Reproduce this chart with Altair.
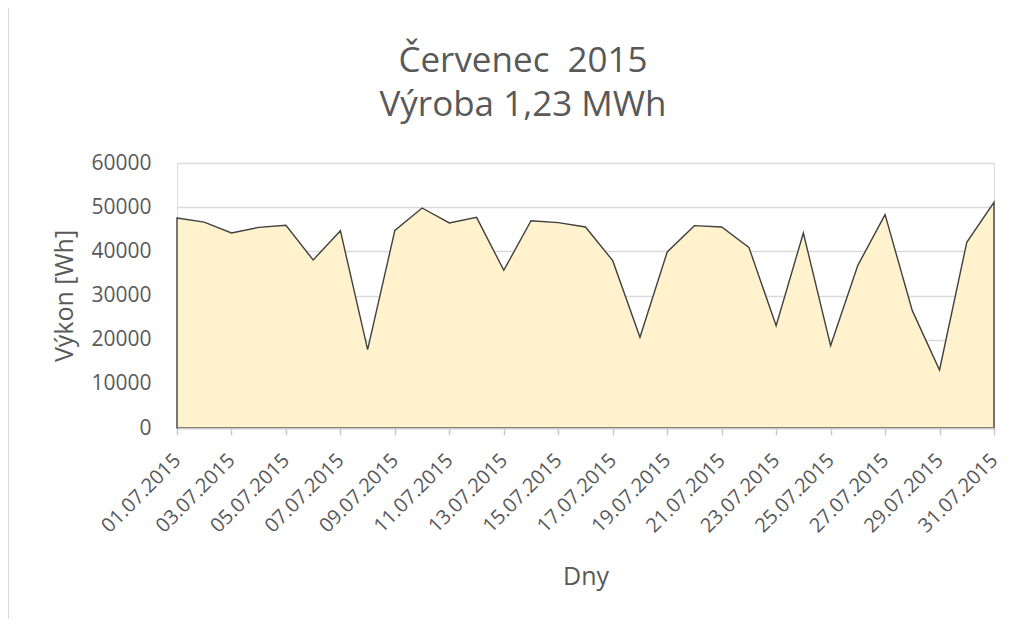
import altair as alt
import pandas as pd

days = [f"{d:02d}.07.2015" for d in range(1, 32)]
vykon = [47550, 46600, 44150, 45430, 45890, 38040, 44680, 17740, 44750, 49810,
         46420, 47700, 35700, 46940, 46490, 45510, 37890, 20530, 39850, 45810,
         45510, 40910, 23170, 44150, 18640, 36830, 48300, 26570, 13130, 42040,
         51090]
tick_days = days[::2]
y_ticks = [0, 10000, 20000, 30000, 40000, 50000, 60000]
title_line1 = "Červenec\u00a0\u00a02015"
title_line2 = "Výroba 1,23 MWh"

df = pd.DataFrame({"den": days, "vykon": vykon})

FONT = "Open Sans"
TXT = "#595959"

area = alt.Chart(df).mark_area(
    color="#fff2cc", stroke="#404040", strokeWidth=1.4, opacity=1
).encode(
    x=alt.X("den:N", sort=days,
            scale=alt.Scale(type="point", padding=0),
            axis=alt.Axis(values=tick_days, title="Dny", labelAngle=-45,
                          labelAlign="right", labelBaseline="middle",
                          labelPadding=22, labelFontSize=20, labelColor=TXT,
                          labelFont=FONT, titleFont=FONT, titleFontSize=25,
                          titleFontWeight="normal", titleColor=TXT,
                          titlePadding=28, domainColor="#c8c8c8",
                          domainWidth=1.5, tickColor="#c8c8c8", tickSize=7,
                          tickWidth=1.5, grid=False, zindex=1)),
    y=alt.Y("vykon:Q",
            scale=alt.Scale(domain=[0, 60000], nice=False),
            axis=alt.Axis(values=y_ticks, format="d", title="Výkon [Wh]",
                          labelFontSize=21, labelColor=TXT, labelFont=FONT,
                          labelPadding=26, titleFont=FONT, titleFontSize=25,
                          titleFontWeight="normal", titleColor=TXT,
                          titlePadding=13, domain=False, ticks=False,
                          grid=True, gridColor="#d9d9d9", gridWidth=1.5)),
)

one = pd.DataFrame({"a": [0]})

border = alt.Chart(one).mark_rect(
    fill="transparent", stroke="#d9d9d9", strokeWidth=2
).encode(
    x=alt.value(-169), x2=alt.value(1200),
    y=alt.value(-156), y2=alt.value(800)
)

t1 = alt.Chart(one).mark_text(
    text=title_line1, font=FONT, fontSize=35, color=TXT,
    align="center", baseline="alphabetic"
).encode(x=alt.value(346), y=alt.value(-91))

t2 = alt.Chart(one).mark_text(
    text=title_line2, font=FONT, fontSize=35, color=TXT,
    align="center", baseline="alphabetic"
).encode(x=alt.value(346), y=alt.value(-47))

chart = alt.layer(border, area, t1, t2).properties(
    width=817, height=265,
    autosize=alt.AutoSizeParams(type="none"),
    padding={"left": 169, "top": 155, "right": 34, "bottom": 191},
).configure_view(stroke=None).configure(background="white")

chart.save("out.html", embed_options={"renderer": "svg", "actions": False})
